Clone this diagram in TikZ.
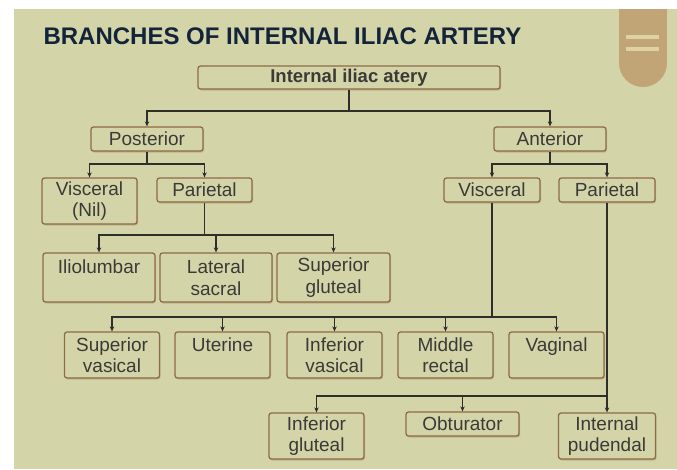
\documentclass[tikz,border=0pt]{standalone}
\usepackage{fontspec}
\setmainfont{Liberation Sans}
\usetikzlibrary{arrows.meta,shadows}
\definecolor{bgcol}{HTML}{D3D5A9}
\definecolor{tabcol}{HTML}{C2A576}
\definecolor{tabline}{HTML}{DCD2A2}
\definecolor{boxcol}{HTML}{8E6B46}
\definecolor{linkcol}{HTML}{2E2E2A}
\definecolor{txtcol}{HTML}{3A3A36}
\definecolor{titlecol}{HTML}{13243A}
\tikzset{
  artbox/.style={draw=boxcol, line width=1.3pt, rounded corners=2.5pt, fill=bgcol,
    text=txtcol, align=center, inner sep=0pt, font=\fontsize{19}{21.5}\selectfont,
    drop shadow={shadow xshift=1pt, shadow yshift=-1.5pt, fill=boxcol, opacity=.3}},
  link/.style={draw=linkcol, line width=1.8pt},
  arr/.style={link, -{Stealth[length=5pt,width=4.5pt]}}
}
\begin{document}
\begin{tikzpicture}[x=1pt,y=-1pt]
        \useasboundingbox (0,0) rectangle (677,469);
        \fill[bgcol] (14,9) rectangle (677,469);
        % menu tab
        \fill[tabcol] (619,9) rectangle (667,63);
        \fill[tabcol] (643,63) circle (24);
        \fill[tabline] (626,35) rectangle (659,39);
        \fill[tabline] (626,47) rectangle (659,51);
        \node[anchor=base west, text=titlecol, font=\bfseries\fontsize{24}{28}\selectfont] (title) at (40,44) {BRANCHES OF INTERNAL ILIAC ARTERY};
        % boxes
        \node[artbox, minimum width=302, minimum height=23] (root) at (349,77.5) {\bfseries\fontsize{18.5}{21}\selectfont Internal iliac atery};
        \node[artbox, minimum width=112, minimum height=24] (post) at (147,139) {Posterior};
        \node[artbox, minimum width=112, minimum height=24] (ant) at (550,139) {Anterior};
        \node[artbox, minimum width=95, minimum height=46] (pvis) at (89.5,201) {Visceral\\(Nil)};
        \node[artbox, minimum width=95, minimum height=24] (ppar) at (204.5,190) {Parietal};
        \node[artbox, minimum width=96, minimum height=24] (avis) at (492,190) {Visceral};
        \node[artbox, minimum width=96, minimum height=24] (apar) at (607,190) {Parietal};
        \node[artbox, minimum width=112, minimum height=49] (ilio) at (99,277.5) {Iliolumbar\\\mbox{}};
        \node[artbox, minimum width=112, minimum height=49] (lsac) at (216,277.5) {Lateral\\sacral};
        \node[artbox, minimum width=113, minimum height=49] (sglu) at (333.5,277.5) {Superior\\gluteal};
        \node[artbox, minimum width=95, minimum height=46] (sves) at (112,355) {Superior\\vasical};
        \node[artbox, minimum width=95, minimum height=46] (uter) at (222.5,355) {Uterine\\\mbox{}};
        \node[artbox, minimum width=95, minimum height=46] (ives) at (334.5,355) {Inferior\\vasical};
        \node[artbox, minimum width=95, minimum height=46] (mrec) at (445.5,355) {Middle\\rectal};
        \node[artbox, minimum width=95, minimum height=46] (vagi) at (556.5,355) {Vaginal\\\mbox{}};
        \node[artbox, minimum width=95, minimum height=46] (iglu) at (316.5,436) {Inferior\\gluteal};
        \node[artbox, minimum width=113, minimum height=24] (obtu) at (462.5,424) {Obturator};
        \node[artbox, minimum width=97, minimum height=46] (ipud) at (607,436) {Internal\\pudendal};
        % connectors
        \draw[link] (root.south) -- ++(0,21) coordinate (j1);
        \draw[arr] (j1) -| (post.north);
        \draw[arr] (j1) -| (ant.north);
        \draw[link] (post.south) -- ++(0,12) coordinate (j2);
        \draw[arr] (j2) -| (pvis.north);
        \draw[arr] (j2) -| (ppar.north);
        \draw[link] (ant.south) -- ++(0,12) coordinate (j3);
        \draw[arr] (j3) -| (avis.north);
        \draw[arr] (j3) -| (apar.north);
        \draw[link] (ppar.south) -- ++(0,32) coordinate (j4);
        \foreach \n in {ilio,lsac,sglu}
            \draw[arr] (j4) -| (\n.north);
        \draw[link] (avis.south) -- ++(0,114) coordinate (j5);
        \foreach \n in {sves,uter,ives,mrec,vagi}
            \draw[arr] (j5) -| (\n.north);
        \draw[arr] (apar.south) -- (ipud.north);
        \path (apar.south) ++(0,193) coordinate (j6);
        \draw[arr] (j6) -| (iglu.north);
        \draw[arr] (j6) -| (obtu.north);
\end{tikzpicture}
\end{document}
